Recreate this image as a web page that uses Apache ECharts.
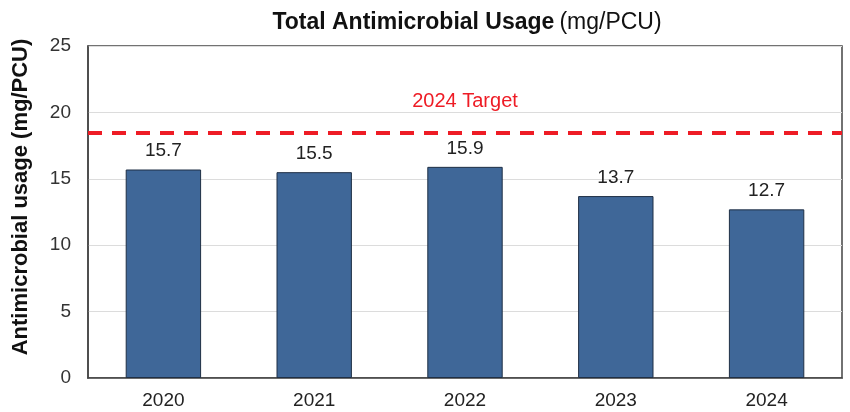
<!DOCTYPE html>
<html>
<head>
<meta charset="utf-8">
<style>
  html, body { margin: 0; padding: 0; background: #fff; }
  #chart { width: 850px; height: 412px; }
</style>
<script src="https://cdn.jsdelivr.net/npm/echarts@6/dist/echarts.min.js"></script>
</head>
<body>
<div id="chart"></div>
<script>
// Total antimicrobial usage per year (mg/PCU)
const years = ['2020', '2021', '2022', '2023', '2024'];
const usage = [15.7, 15.5, 15.9, 13.7, 12.7];
const target = 18.5;
const targetLabel = '2024 Target';
const yTicks = { min: 0, max: 25, interval: 5 };

const FONT = '"Liberation Sans", Arial, sans-serif';

const chart = echarts.init(document.getElementById('chart'), null, { renderer: 'canvas' });
chart.setOption({
  animation: false,
  backgroundColor: '#ffffff',
  title: {
    text: '{b|Total Antimicrobial Usage} {n|(mg/PCU)}',
    left: 462,
    textAlign: 'center',
    top: 6,
    textStyle: {
      rich: {
        b: { fontFamily: FONT, fontSize: 23, fontWeight: 'bold', color: '#111' },
        n: { fontFamily: FONT, fontSize: 23, fontWeight: 'normal', color: '#111' }
      }
    }
  },
  grid: {
    left: 88, right: 8, top: 46, bottom: 34,
    show: true,
    borderColor: '#444',
    borderWidth: 1.5,
    backgroundColor: 'transparent'
  },
  xAxis: {
    type: 'category',
    data: years,
    axisLine: { show: true, lineStyle: { color: '#444', width: 1.5 } },
    axisTick: { show: false },
    axisLabel: { fontFamily: FONT, fontSize: 19, color: '#222', margin: 13 }
  },
  yAxis: {
    type: 'value',
    min: yTicks.min,
    max: yTicks.max,
    interval: yTicks.interval,
    name: 'Antimicrobial usage (mg/PCU)',
    nameLocation: 'middle',
    nameGap: 56,
    nameTextStyle: {
      fontFamily: FONT, fontSize: 22, fontWeight: 'bold', color: '#111',
      padding: [0, 0, 0, 30]
    },
    axisLine: { show: true, lineStyle: { color: '#444', width: 1.5 } },
    axisTick: { show: false },
    axisLabel: { fontFamily: FONT, fontSize: 19, color: '#333', margin: 17 },
    splitLine: { lineStyle: { color: '#dcdcdc', width: 1 } }
  },
  series: [{
    type: 'bar',
    data: usage,
    barWidth: '50%',
    itemStyle: { color: '#3f6798', borderColor: '#1f2f45', borderWidth: 1 },
    label: {
      show: true,
      position: 'top',
      distance: 9,
      fontFamily: FONT,
      fontSize: 19,
      color: '#222',
      formatter: p => p.value.toFixed(1)
    },
    markLine: {
      silent: true,
      symbol: 'none',
      data: [{ yAxis: target }],
      lineStyle: { color: '#ee1c25', width: 4, type: [14, 10] },
      label: {
        show: true,
        position: 'middle',
        distance: 21,
        formatter: targetLabel,
        fontFamily: FONT,
        fontSize: 20,
        color: '#ee1c25'
      }
    }
  }]
});
</script>
</body>
</html>
